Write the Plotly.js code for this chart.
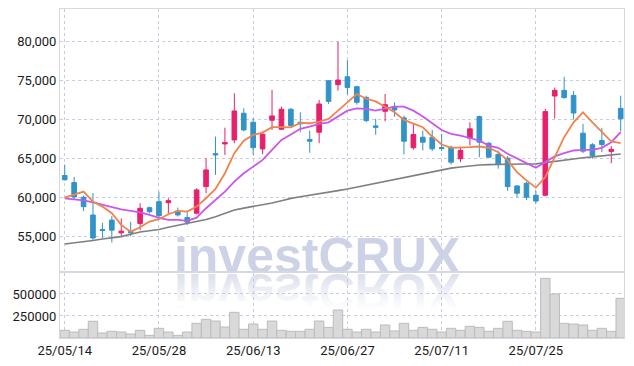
<!DOCTYPE html>
<html>
<head>
<meta charset="utf-8">
<script src="https://cdn.plot.ly/plotly-3.0.1.min.js"></script>
<style>
  html, body { margin: 0; padding: 0; background: #ffffff; }
  #wrap { position: relative; width: 634px; height: 366px; overflow: hidden; background: #ffffff; }
  #chart { position: absolute; left: 0; top: 0; width: 634px; height: 366px; z-index: 3; }
  .wm { position: absolute; left: 0; width: 634px; height: 34px; text-align: center; font-family: "Liberation Sans", Arial, sans-serif;
        font-weight: bold; font-size: 50px; line-height: 34px; white-space: nowrap; top: 238.7px; }
  #wm1 { color: #cdd2e6; z-index: 1; }
  #wm2 { color: #dadeeb; z-index: 1; transform: scaleY(-1); transform-origin: 50% 34.5px; }
  #fade { position: absolute; left: 0; width: 634px; top: 274px; height: 36px; z-index: 2;
          background: linear-gradient(to bottom, rgba(255,255,255,0.05) 0%, rgba(255,255,255,0.55) 50%, rgba(255,255,255,1) 100%); }
</style>
</head>
<body>
<div id="wrap">
  <div class="wm" id="wm1">investCRUX</div>
  <div class="wm" id="wm2">investCRUX</div>
  <div id="fade"></div>
  <div id="chart"></div>
</div>
<script>
const dates = ['25/05/14','25/05/15','25/05/16','25/05/19','25/05/20','25/05/21','25/05/22','25/05/23','25/05/26','25/05/27',
  '25/05/28','25/05/29','25/05/30','25/06/02','25/06/04','25/06/05','25/06/09','25/06/10','25/06/11','25/06/12',
  '25/06/13','25/06/16','25/06/17','25/06/18','25/06/19','25/06/20','25/06/23','25/06/24','25/06/25','25/06/26',
  '25/06/27','25/06/30','25/07/01','25/07/02','25/07/03','25/07/04','25/07/07','25/07/08','25/07/09','25/07/10',
  '25/07/11','25/07/14','25/07/15','25/07/16','25/07/17','25/07/18','25/07/21','25/07/22','25/07/23','25/07/24',
  '25/07/25','25/07/28','25/07/29','25/07/30','25/07/31','25/08/01','25/08/04','25/08/05','25/08/06','25/08/07'];

const openP = [62840,61940,60050,57765,55917,57120,55480,55650,56690,58710,
  59480,59354,58295,57435,58000,61410,65640,66885,67400,70820,
  69670,66245,69920,68770,71335,69660,67450,68385,74990,74480,
  75500,74225,72855,69200,71070,71665,70225,66390,67745,67745,
  66430,66465,64985,67615,70390,66980,65535,65050,61500,61840,
  60300,60300,73030,73755,73115,68260,66775,67320,65930,71450];
const highP = [64225,62650,60260,60570,56770,57640,57340,56900,59280,58840,
  60775,59920,58720,58130,61205,65050,67820,68975,73385,71460,
  70180,68460,73810,71670,71460,70940,68600,72520,75080,80010,
  77635,74350,73075,70100,73290,72215,70520,69455,68600,68690,
  68180,66680,66390,69660,70520,67105,66045,65330,61600,62050,
  60860,71375,74100,75500,73670,69455,66980,68950,66610,73070];
const lowP = [62200,59830,58280,54530,54800,54240,55050,55050,55830,57985,
  57400,57985,57565,56500,57870,60565,62910,65475,66975,68500,
  65475,65565,68680,68680,69100,68385,65750,66980,72010,73710,
  73200,71920,69660,68050,69790,70390,65535,66135,66045,65955,
  65955,64255,64550,66680,65190,65150,63705,60860,60050,59700,
  59230,60170,70135,72695,70010,65700,64985,65830,64400,68500];
const closeP = [62290,60090,58840,54830,55790,55830,55700,55480,58630,58190,
  57675,59612,57780,56850,60990,63550,65475,67050,71115,68680,
  66410,68130,70475,71335,69230,69455,67235,72010,72345,75080,
  74135,72220,69880,69020,71920,71245,67235,68090,67105,66260,
  66300,64550,66045,68820,67105,65190,64255,61415,60565,60050,
  59570,71030,73755,72825,70850,65955,65405,66810,66185,70100];

const ma5 = [60000,60350,60770,59490,58850,58000,56500,55640,56200,56930,
  57230,57870,58300,58200,58850,59920,61115,63130,65700,67310,
  68040,68340,69030,69030,69020,69585,69535,69750,70100,71155,
  72220,73290,72680,72345,71665,70940,69970,69455,69020,67835,
  66810,66390,66390,66465,66555,66390,65830,64770,63270,62210,
  61280,62630,65190,67745,69660,70940,69660,68385,67195,66980];
const ma20 = [59900,59770,59640,59385,59065,58745,58490,58295,58100,57780,
  57400,57140,57140,57010,57435,58640,59705,60770,62050,63130,
  63975,64840,66115,67395,68090,68820,69110,69455,69660,70390,
  71155,71450,71370,71155,71370,71665,71665,71155,70390,69495,
  68665,68180,67965,67645,67320,66680,66390,65620,64985,64420,
  63830,64550,65280,65700,66045,66135,66135,66390,67105,68385];
const ma60 = [54050,54180,54320,54500,54700,54850,55000,55300,55600,55750,
  55920,56200,56450,56650,56900,57200,57550,58000,58400,58650,
  58850,59100,59320,59600,59900,60100,60280,60500,60700,60900,
  61100,61350,61620,61850,62080,62350,62590,62850,63100,63350,
  63590,63780,63930,64080,64190,64230,64270,64300,64320,64320,
  64330,64500,64700,64870,65020,65120,65220,65320,65420,65600];

const volume = [87500,68000,99000,190000,57000,76000,68000,45000,87500,30000,
  110000,68000,30000,68000,167000,212000,193000,125000,292000,99000,
  159000,99000,193000,87500,76000,76000,99000,193000,121000,318000,
  99000,68000,99000,68000,148000,80000,167000,87500,121000,99000,
  68000,110000,87500,133000,121000,76000,110000,190000,87500,76000,
  68000,678000,500000,167000,159000,148000,87500,110000,76000,451000];

const xTicks = ['25/05/14','25/05/28','25/06/13','25/06/27','25/07/11','25/07/25'];
const priceTicks = [55000,60000,65000,70000,75000,80000];
const volTicks = [250000,500000];

const upColor = '#e6206c';
const downColor = '#3193c8';
const gridColor = '#c9cbe0';
const frameColor = '#d7d7df';
const tickFont = {family: 'Roboto, "Liberation Sans", sans-serif', size: 13, color: '#1a1a1a'};

const traces = [
  {type: 'bar', x: dates, y: volume, xaxis: 'x', yaxis: 'y2',
   marker: {color: '#d9d9d9', line: {color: '#bcbcbc', width: 1}}, hoverinfo: 'skip', showlegend: false},
  {type: 'candlestick', x: dates, open: openP, high: highP, low: lowP, close: closeP,
   xaxis: 'x', yaxis: 'y', showlegend: false, whiskerwidth: 0,
   increasing: {line: {color: upColor, width: 1}, fillcolor: upColor},
   decreasing: {line: {color: downColor, width: 1}, fillcolor: downColor}},
  {type: 'scatter', mode: 'lines', x: dates, y: ma60, xaxis: 'x', yaxis: 'y',
   line: {color: '#7f7f7f', width: 1.6}, showlegend: false, hoverinfo: 'skip'},
  {type: 'scatter', mode: 'lines', x: dates, y: ma20, xaxis: 'x', yaxis: 'y',
   line: {color: '#cc55ee', width: 1.8}, showlegend: false, hoverinfo: 'skip'},
  {type: 'scatter', mode: 'lines', x: dates, y: ma5, xaxis: 'x', yaxis: 'y',
   line: {color: '#f0834c', width: 1.8}, showlegend: false, hoverinfo: 'skip'}
];

const layout = {
  width: 634, height: 366,
  margin: {l: 60, r: 10, t: 9, b: 28, pad: 0},
  paper_bgcolor: 'rgba(0,0,0,0)', plot_bgcolor: 'rgba(0,0,0,0)',
  showlegend: false, bargap: 0,
  xaxis: {type: 'category', anchor: 'y2', range: [-0.5, 59.35],
    rangeslider: {visible: false},
    tickmode: 'array', tickvals: xTicks, ticktext: xTicks, ticks: '',
    showgrid: true, gridcolor: gridColor, griddash: 'dot', gridwidth: 1,
    showline: true, mirror: 'all', linecolor: frameColor, linewidth: 1,
    tickfont: tickFont, zeroline: false},
  yaxis: {domain: [0.204, 1], range: [50603, 84190], tickmode: 'array', tickvals: priceTicks,
    tickformat: ',d', ticks: '', showgrid: true, gridcolor: gridColor, griddash: 'dot',
    showline: true, mirror: true, linecolor: frameColor, zeroline: false, tickfont: tickFont},
  yaxis2: {domain: [0, 0.199], range: [0, 744000], tickmode: 'array', tickvals: volTicks,
    tickformat: 'd', ticks: '', showgrid: true, gridcolor: gridColor, griddash: 'dot',
    showline: true, mirror: true, linecolor: frameColor, zeroline: false, tickfont: tickFont}
};

Plotly.newPlot('chart', traces, layout, {staticPlot: true, displayModeBar: false});
</script>
</body>
</html>
